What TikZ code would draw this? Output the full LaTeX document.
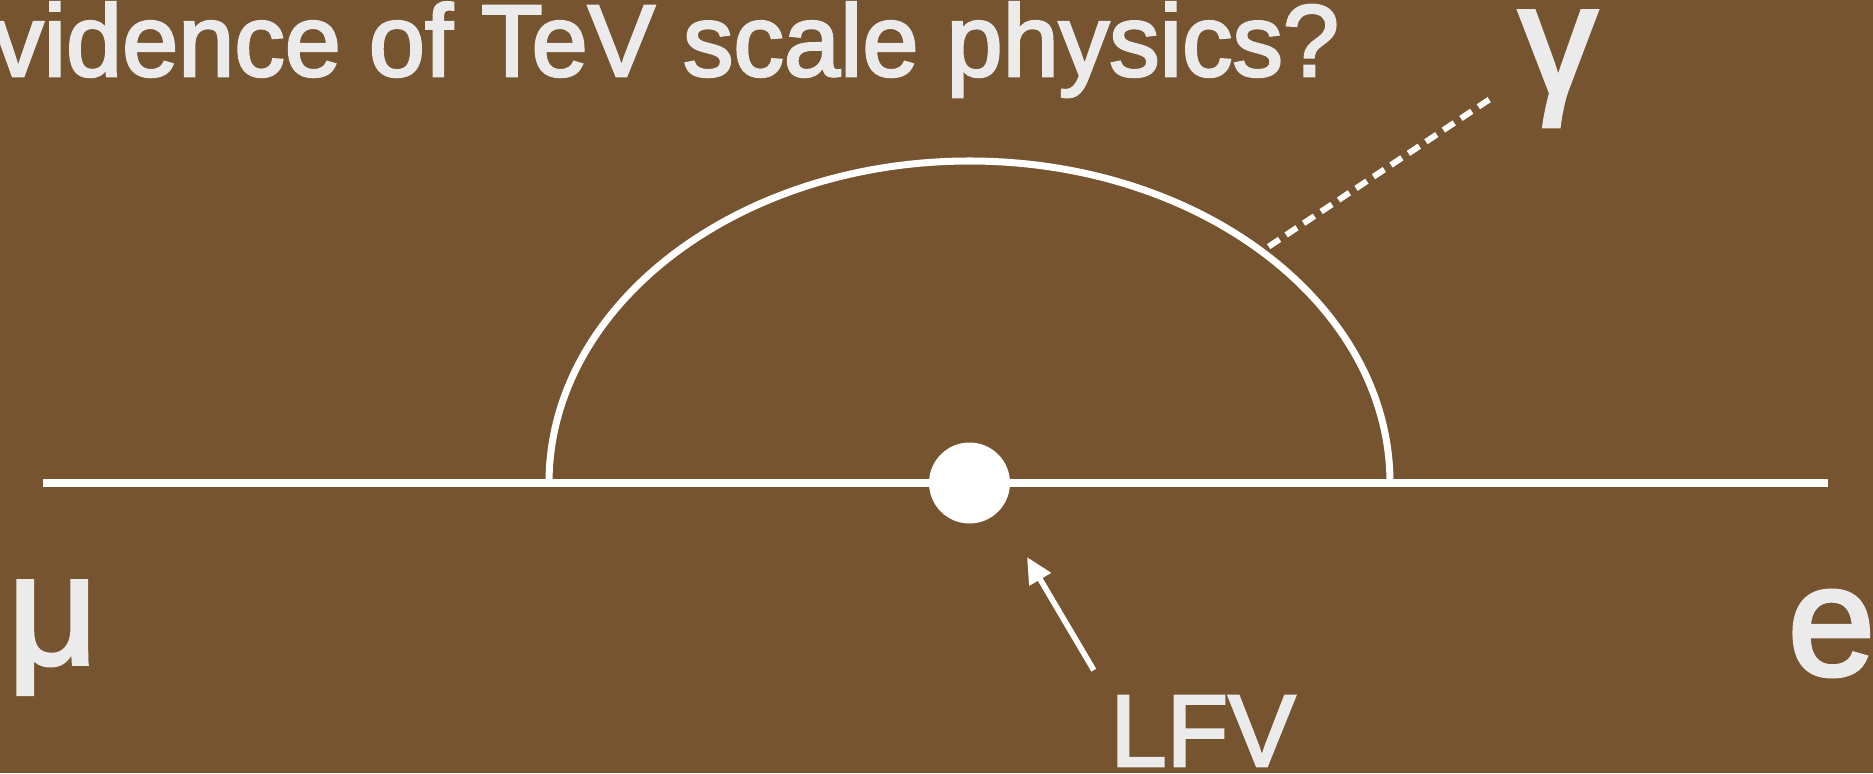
\documentclass[tikz,border=0pt]{standalone}
\usepackage{fontspec}
\setmainfont{Liberation Sans}
\newfontfamily\slidefont[FakeBold=2.5]{Liberation Sans}
\newfontfamily\slidenarrow[FakeBold=2.5, FakeStretch=0.99]{Liberation Sans}
\usetikzlibrary{arrows.meta, positioning}
\definecolor{bgbrown}{RGB}{118,84,48}
\definecolor{txtgray}{RGB}{235,235,235}

\begin{document}
\begin{tikzpicture}[
  every node/.style={text=txtgray, inner sep=0pt},
  heading/.style={font=\slidenarrow\fontsize{29}{35}\selectfont},
  particle/.style={font=\slidefont\fontsize{44.7}{54}\selectfont},
  vertex/.style={circle, fill=white, minimum size=0.81cm},
  fermion/.style={white, line width=2pt},
  photon/.style={white, line width=1.7pt, dash pattern=on 0.13cm off 0.08cm, dash phase=0.13cm},
  pointer/.style={white, line width=1.6pt, -{Triangle[length=0.26cm, width=0.24cm]}}
]

% Background
\useasboundingbox (0,0) rectangle (18.73,7.73);
\fill[bgbrown] (0,0) rectangle (18.73,7.73);
\clip (0,0) rectangle (18.73,7.73);

% Title
\node[heading, anchor=base east] (title) at (13.40,6.97) {vidence of TeV scale physics?};

% Fermion line and loop
\coordinate (muend) at (0.43,2.90);
\coordinate (eend) at (18.28,2.90);
\coordinate (loopin) at (5.49,2.90);
\coordinate (emit) at (12.62,5.22);
\coordinate (gend) at (14.93,6.76);
\draw[fermion] (muend) -- (eend);
\draw[fermion] (loopin) arc[start angle=180, end angle=0, x radius=4.205, y radius=3.22];
\draw[photon] (emit) -- (gend);
\node[vertex] (dot) at (9.695,2.90) {};

% Particles
\node[particle, anchor=base] (gamma) at (15.58,6.79) {γ};
\node[particle, anchor=base west] (mu) at (0.07,1.09) {μ};
\node[particle, anchor=base west] (elec) at (17.87,0.98) {e};

% Label
\node[heading, anchor=base] (lfv) at (12.03,0.07) {LFV};
\draw[pointer] ([shift={(-0.16,0.25)}]lfv.north west) -- ([shift={(0.575,-0.74)}]dot.center);

\end{tikzpicture}
\end{document}
